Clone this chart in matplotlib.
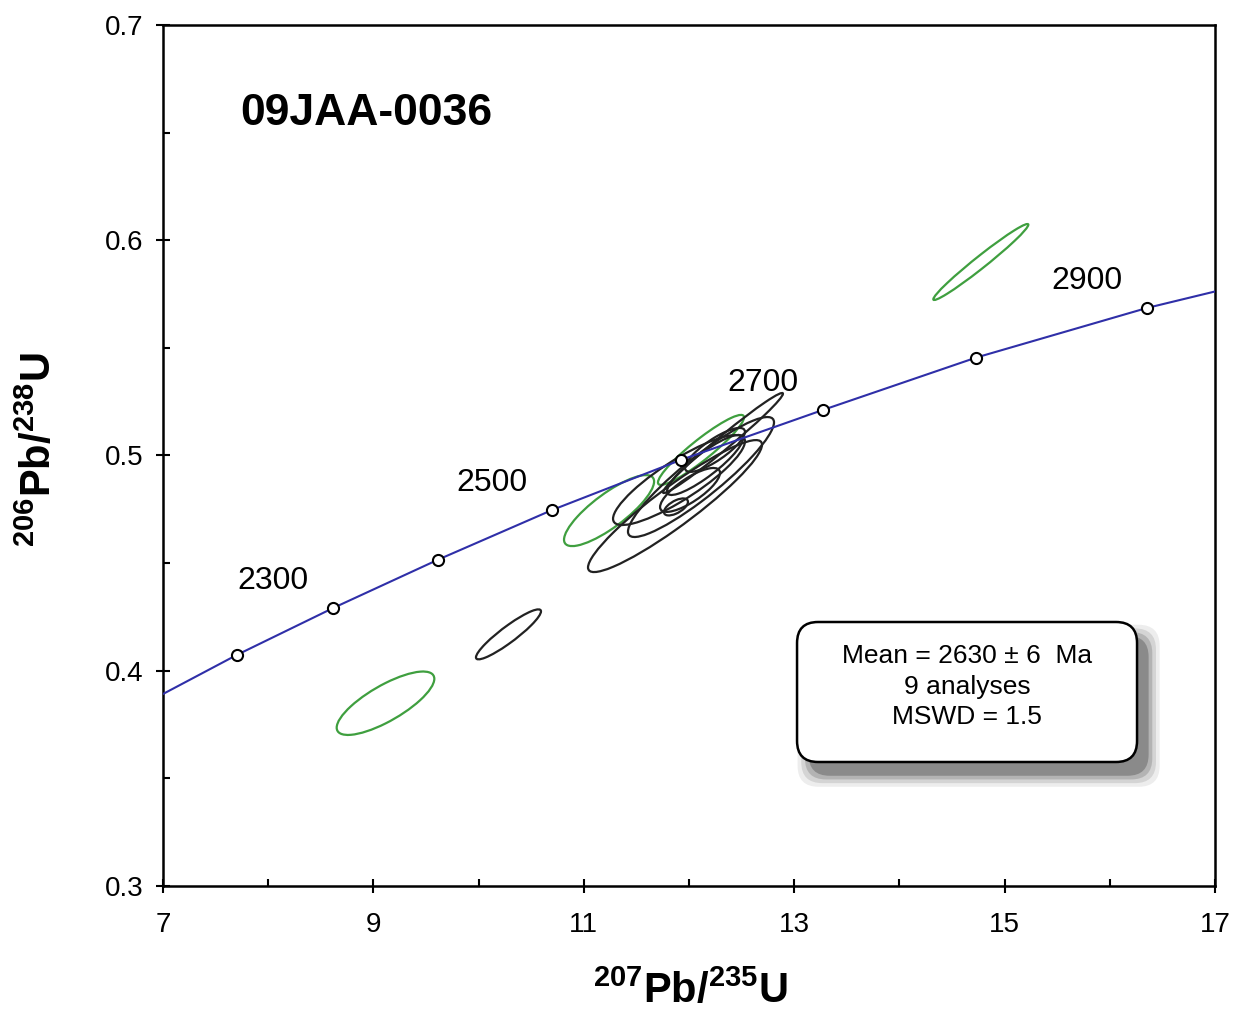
import numpy as np
import matplotlib
matplotlib.use('Agg')
import matplotlib.pyplot as plt
from matplotlib.patches import Circle, FancyBboxPatch
from matplotlib.transforms import Affine2D

plt.rcParams['font.family'] = ['Liberation Sans', 'DejaVu Sans']
plt.rcParams['mathtext.fontset'] = 'custom'
plt.rcParams['mathtext.rm'] = 'Liberation Sans'
plt.rcParams['mathtext.bf'] = 'Liberation Sans:bold'
plt.rcParams['mathtext.default'] = 'bf'

## Data
# concordia curve (207Pb/235U, 206Pb/238U)
curve_x = [7.0, 7.70, 8.62, 9.61, 10.70, 11.92, 13.27, 14.73, 16.35, 17.0]
curve_y = [0.3892, 0.4073, 0.4292, 0.4515, 0.4747, 0.4979, 0.5211, 0.5455, 0.5685, 0.5762]

# age markers on the concordia (Ma)
marker_age = [2200, 2300, 2400, 2500, 2600, 2700, 2800, 2900]
marker_x = [7.70, 8.62, 9.61, 10.70, 11.92, 13.27, 14.73, 16.35]
marker_y = [0.4073, 0.4292, 0.4515, 0.4747, 0.4979, 0.5211, 0.5455, 0.5685]
label_age = [2300, 2500, 2700, 2900]

# error ellipses: centre, half widths, correlation, used in mean or not
ell_x = [9.115, 10.284, 14.774, 11.240, 12.114,
         11.867, 12.114, 11.905, 11.876, 12.323, 12.152, 12.247, 12.010]
ell_y = [0.3849, 0.4169, 0.5899, 0.4744, 0.5026,
         0.4765, 0.4900, 0.4886, 0.4761, 0.5058, 0.4956, 0.5026, 0.4840]
ell_sx = [0.464, 0.309, 0.4515, 0.428, 0.409,
          0.827, 0.694, 0.627, 0.114, 0.570, 0.361, 0.285, 0.285]
ell_sy = [0.01473, 0.01161, 0.01765, 0.01649, 0.01626,
          0.03066, 0.02787, 0.0209, 0.00395, 0.02323, 0.01394, 0.0102, 0.0102]
ell_rho = [0.77, 0.92, 0.98, 0.82, 0.93,
           0.93, 0.91, 0.86, 0.60, 0.985, 0.88, 0.82, 0.78]
ell_used = [False, True, False, False, False,
            True, True, True, True, True, True, True, True]

x_ticks = [7, 9, 11, 13, 15, 17]
y_ticks = [0.3, 0.4, 0.5, 0.6, 0.7]
sample_name = '09JAA-0036'
stats_text = 'Mean = 2630 \u00b1 6  Ma\n9 analyses\nMSWD = 1.5'

## Figure
fig = plt.figure(figsize=(12.34, 10.13), dpi=100)
ax = fig.add_axes([0.1321, 0.1254, 0.8525, 0.8499])

# ellipses (unit circle stretched by sx, sy and rho)
for cx, cy, sx, sy, r, used in zip(ell_x, ell_y, ell_sx, ell_sy, ell_rho, ell_used):
    m = Affine2D(np.array([[sx, 0, cx],
                           [sy * r, sy * np.sqrt(1 - r * r), cy],
                           [0, 0, 1]]))
    c = Circle((0, 0), 1, fill=False, lw=1.6,
               ec='#222222' if used else '#3f9f3f')
    c.set_transform(m + ax.transData)
    ax.add_patch(c)

# concordia line and markers
ax.plot(curve_x, curve_y, color='#2f2fa8', lw=1.5, zorder=3)
ax.plot(marker_x, marker_y, 'o', ms=8, mfc='white', mec='black', mew=1.5, zorder=4)
for age, x, y in zip(marker_age, marker_x, marker_y):
    if age in label_age:
        ax.annotate(str(age), (x, y), xytext=(-60, 27), textcoords='offset pixels',
                    ha='center', va='center', fontsize=23)

# axes
ax.set_xlim(7, 17)
ax.set_ylim(0.3, 0.7)
ax.set_xticks(x_ticks)
ax.set_yticks(y_ticks)
ax.set_yticklabels([f'{v:.1f}' for v in y_ticks])
ax.set_xticks([8, 10, 12, 14, 16], minor=True)
ax.set_yticks([0.35, 0.45, 0.55, 0.65], minor=True)
ax.tick_params(which='major', direction='inout', length=10, width=1.5, labelsize=20)
ax.tick_params(axis='x', which='major', pad=14)
ax.tick_params(axis='y', which='major', pad=9)
ax.tick_params(which='minor', direction='in', length=5, width=1.5)
for s in ax.spines.values():
    s.set_linewidth(1.8)

# sample name
ax.text(0.0732, 0.897, sample_name, transform=ax.transAxes, fontsize=32,
        fontweight='bold', ha='left', va='center')

# stats box with soft shadow
bx, by, bw, bh = 0.6027, 0.144, 0.3232, 0.1626
asp = 1052 / 861
for i, a in enumerate([0.08, 0.12, 0.18, 0.28]):
    grow = (3 - i) * 0.0035
    sh = FancyBboxPatch((bx + 0.011 - grow, by - 0.016 - grow * asp),
                        bw + 2 * grow, bh + 2 * grow * asp,
                        boxstyle='round,pad=0,rounding_size=0.02',
                        mutation_aspect=asp, transform=ax.transAxes,
                        fc='#222222', ec='none', alpha=a, zorder=5)
    ax.add_patch(sh)
box = FancyBboxPatch((bx, by), bw, bh, boxstyle='round,pad=0,rounding_size=0.02',
                     mutation_aspect=asp, transform=ax.transAxes,
                     fc='white', ec='black', lw=1.8, zorder=6)
ax.add_patch(box)
ax.text(bx + bw / 2, by + bh / 2 + 0.006, stats_text, transform=ax.transAxes,
        ha='center', va='center', fontsize=19, linespacing=1.35, zorder=7)

# axis titles
fig.text(0.559, 0.021, r'$^{207}$Pb/$^{235}$U', ha='center', va='center',
         fontsize=30, fontweight='bold')
fig.text(0.032, 0.556, r'$^{206}$Pb/$^{238}$U', ha='center', va='center',
         fontsize=30, fontweight='bold', rotation=90)

fig.savefig('out.png', dpi=100)
